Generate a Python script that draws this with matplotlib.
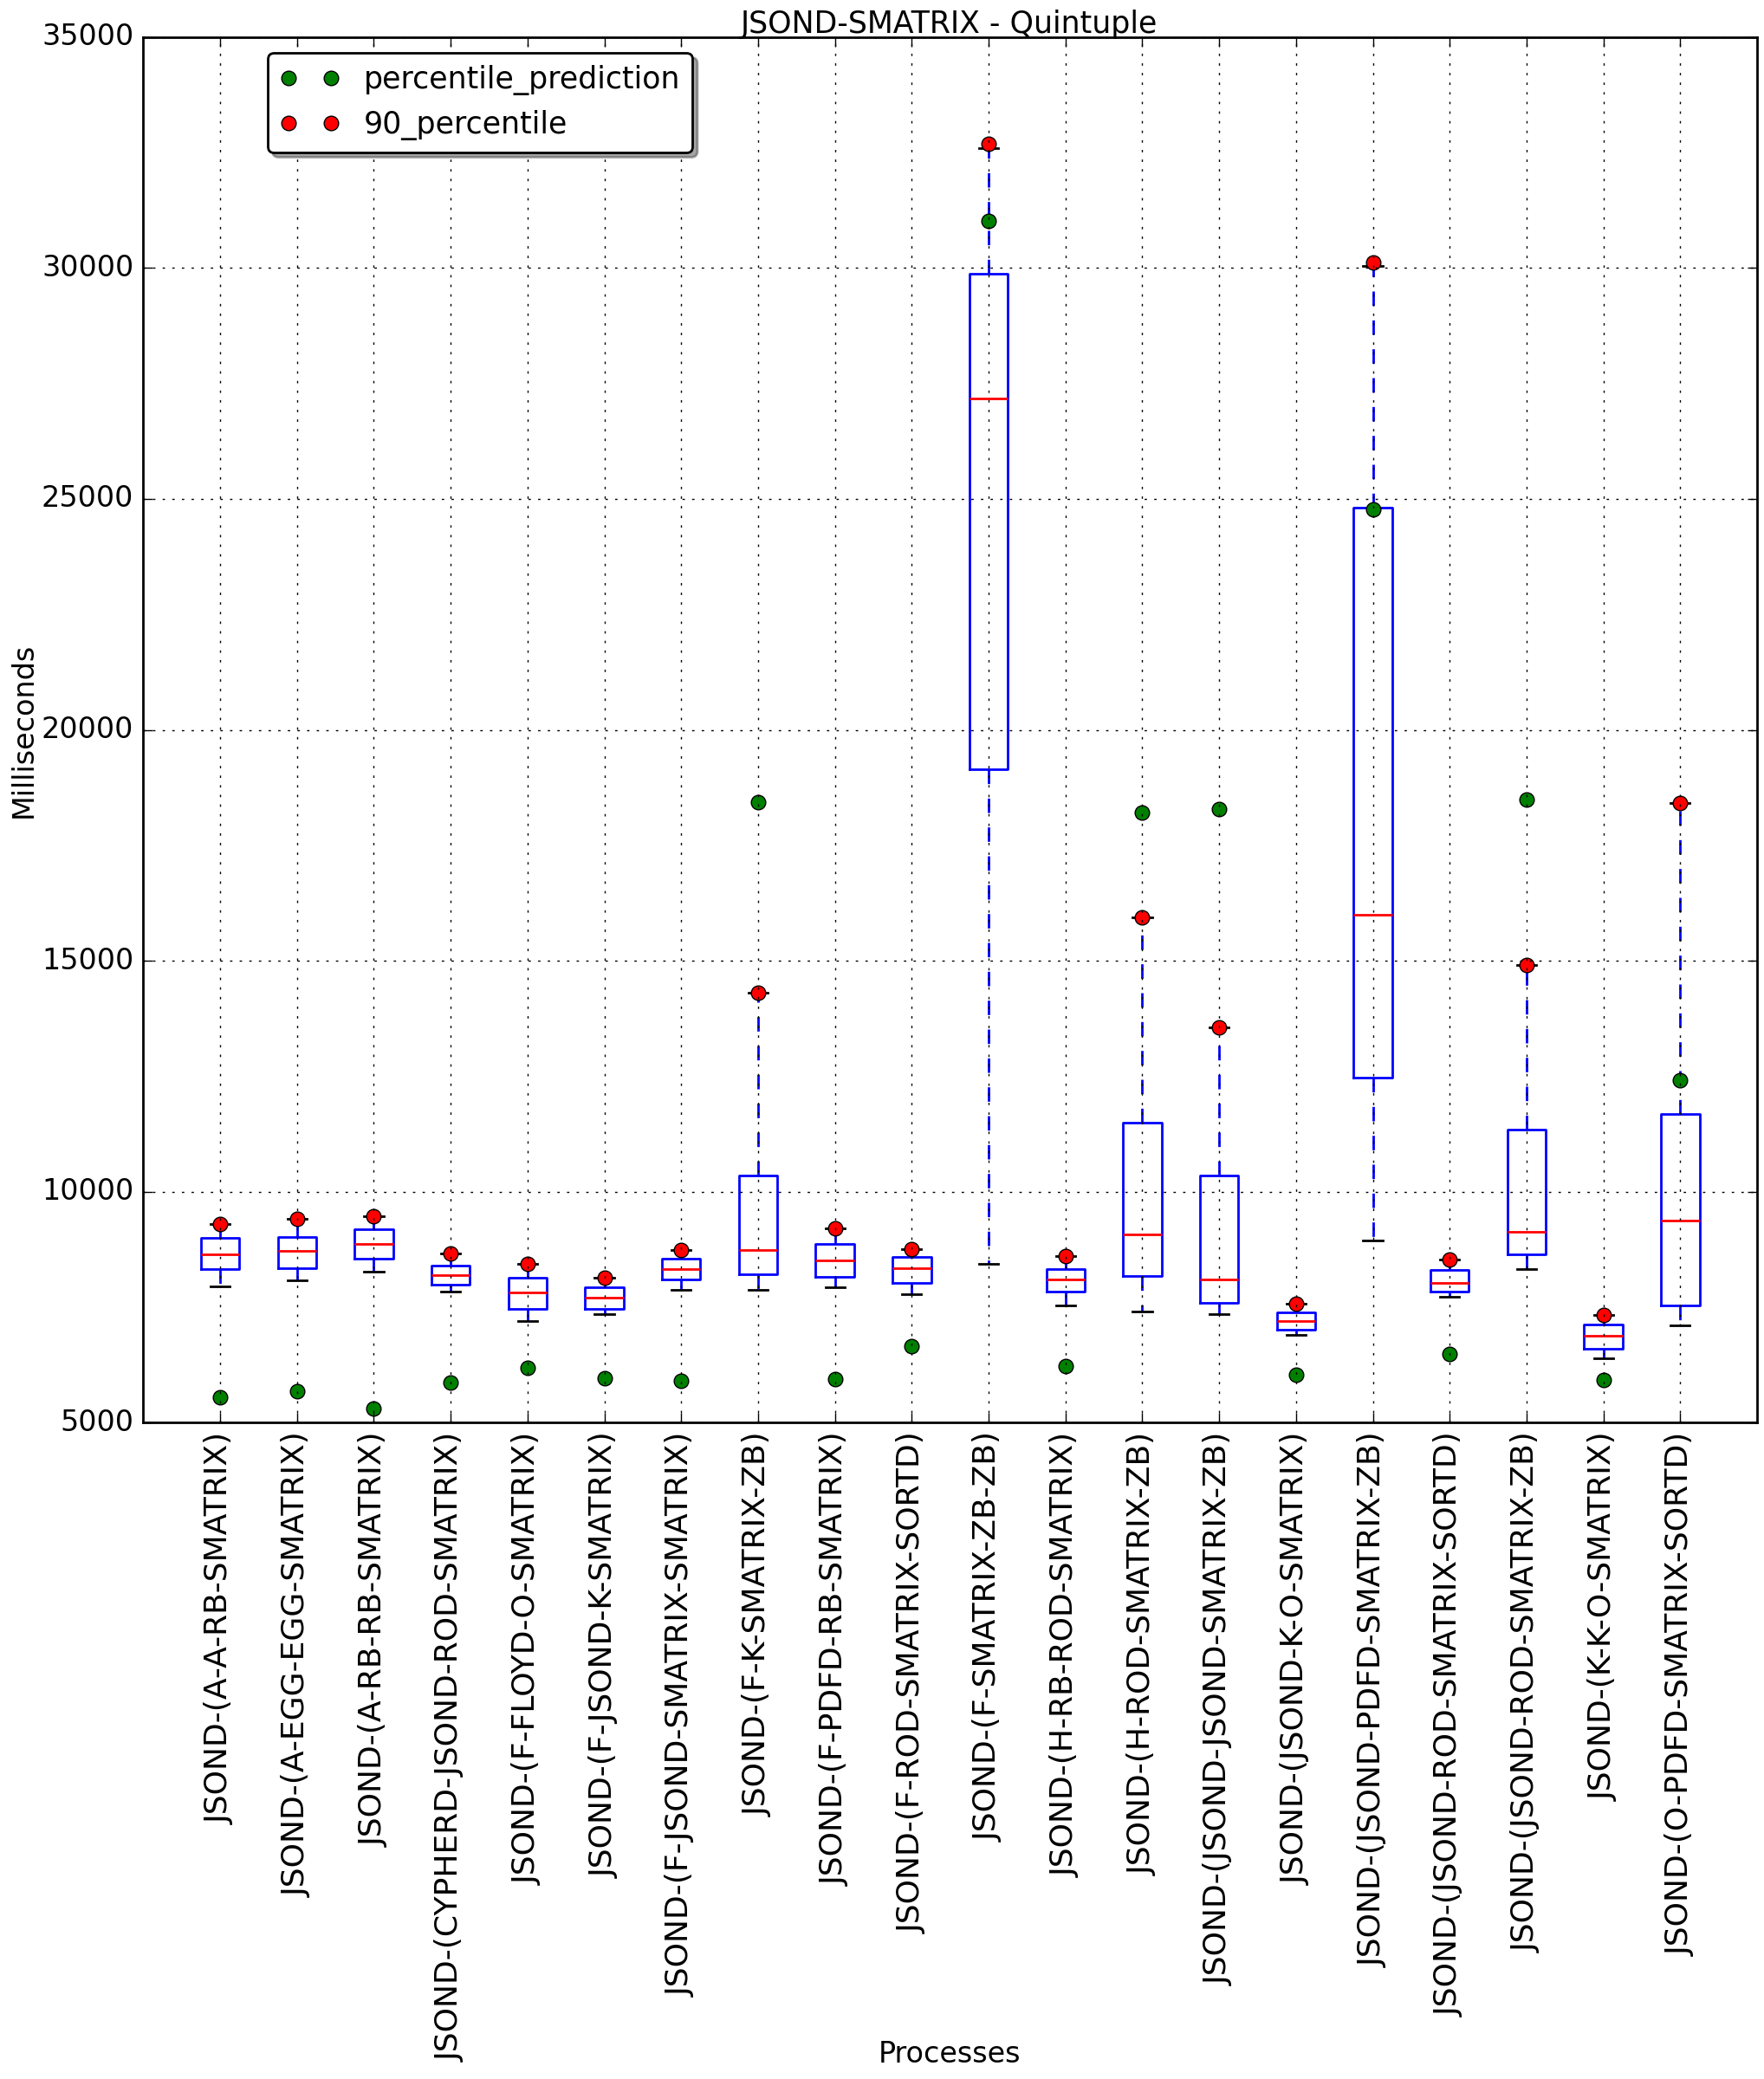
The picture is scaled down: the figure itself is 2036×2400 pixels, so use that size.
import numpy as np
import matplotlib
matplotlib.use("Agg")
import matplotlib.pyplot as plt

plt.style.use('classic')

# process names (x tick labels)
labels = ['JSOND-(A-A-RB-SMATRIX)', 'JSOND-(A-EGG-EGG-SMATRIX)', 'JSOND-(A-RB-RB-SMATRIX)',
          'JSOND-(CYPHERD-JSOND-ROD-SMATRIX)', 'JSOND-(F-FLOYD-O-SMATRIX)', 'JSOND-(F-JSOND-K-SMATRIX)',
          'JSOND-(F-JSOND-SMATRIX-SMATRIX)', 'JSOND-(F-K-SMATRIX-ZB)', 'JSOND-(F-PDFD-RB-SMATRIX)',
          'JSOND-(F-ROD-SMATRIX-SORTD)', 'JSOND-(F-SMATRIX-ZB-ZB)', 'JSOND-(H-RB-ROD-SMATRIX)',
          'JSOND-(H-ROD-SMATRIX-ZB)', 'JSOND-(JSOND-JSOND-SMATRIX-ZB)', 'JSOND-(JSOND-K-O-SMATRIX)',
          'JSOND-(JSOND-PDFD-SMATRIX-ZB)', 'JSOND-(JSOND-ROD-SMATRIX-SORTD)', 'JSOND-(JSOND-ROD-SMATRIX-ZB)',
          'JSOND-(K-K-O-SMATRIX)', 'JSOND-(O-PDFD-SMATRIX-SORTD)']

# box statistics (milliseconds)
whislo = [7955, 8087, 8275, 7842, 7202, 7359, 7880, 7867, 7936, 7786,
          8444, 7541, 7409, 7353, 6901, 8946, 7729, 8331, 6393, 7108]
q1 = [8331, 8350, 8557, 7993, 7466, 7466, 8099, 8219, 8162, 8030,
      19153, 7842, 8181, 7591, 7008, 12464, 7842, 8651, 6600, 7535]
med = [8651, 8714, 8877, 8187, 7823, 7710, 8331, 8746, 8520, 8350,
       27170, 8106, 9072, 8106, 7202, 15995, 8030, 9135, 6882, 9367]
q3 = [9009, 9028, 9197, 8407, 8143, 7936, 8557, 10345, 8877, 8595,
      29880, 8331, 11494, 10345, 7390, 24809, 8312, 11349, 7133, 11682]
whishi = [9298, 9411, 9467, 8670, 8444, 8131, 8746, 14302, 9216, 8764,
          32590, 8614, 15938, 13555, 7579, 30050, 8539, 14904, 7340, 18407]

# point series
percentile_90 = [9298, 9411, 9467, 8670, 8444, 8131, 8746, 14302, 9216, 8764,
                 32694, 8614, 15938, 13555, 7579, 30120, 8539, 14904, 7340, 18407]
percentile_prediction = [5546, 5678, 5314, 5866, 6192, 5960, 5903, 18435, 5947, 6650,
                         31015, 6230, 18206, 18292, 6035, 24780, 6487, 18493, 5922, 12407]

positions = np.arange(1, len(labels) + 1)

stats = []
for i in range(len(labels)):
    stats.append({'med': med[i], 'q1': q1[i], 'q3': q3[i],
                  'whislo': whislo[i], 'whishi': whishi[i], 'fliers': []})

fig = plt.figure(figsize=(10.18, 12), dpi=200, facecolor='white')
ax_box = [0.0812, 0.3157, 0.9149, 0.6665]
ax = fig.add_axes(ax_box)

ax.bxp(stats, positions=positions, widths=0.5, showfliers=False)
ax.plot(positions, percentile_prediction, 'go', label='percentile_prediction')
ax.plot(positions, percentile_90, 'ro', label='90_percentile')

ax.set_xlim(0, len(labels) + 1)
ax.set_ylim(5000, 35000)
ax.set_xticks(positions)
ax.set_xticklabels(labels, rotation=90, fontsize=13)
ax.tick_params(axis='y', labelsize=12)
ax.grid(True)

ax.legend(loc='upper left', bbox_to_anchor=(0.0771, 0.9887), borderaxespad=0,
          fancybox=True, shadow=True, numpoints=2, fontsize=12.5)

fig.text(0.5383, 0.984, 'JSOND-SMATRIX - Quintuple', ha='center', va='baseline', fontsize=12.5)
fig.text(0.0135, ax_box[1] + ax_box[3] / 2, 'Milliseconds', rotation=90,
         ha='center', va='center', fontsize=12)
fig.text(0.5383, 0.012, 'Processes', ha='center', va='center', fontsize=12)

fig.savefig('out.png', dpi=200, facecolor='white')
